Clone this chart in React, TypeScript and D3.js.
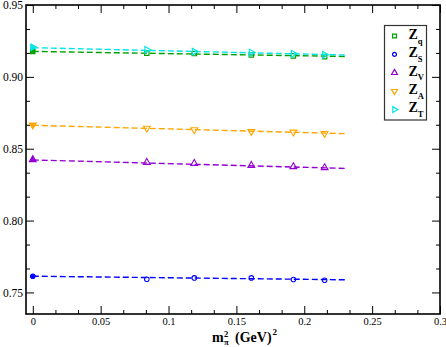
import { useEffect, useRef } from "react";
import * as d3 from "d3";

// pion mass squared (GeV^2)
const mpi2 = [0, 0.084, 0.119, 0.161, 0.192, 0.215];

// renormalization constants
const zq = [0.9176, 0.9165, 0.9162, 0.9153, 0.9146, 0.9141];
const zs = [0.7613, 0.7592, 0.7601, 0.7601, 0.759, 0.7585];
const zv = [0.8424, 0.8405, 0.8398, 0.8384, 0.8375, 0.8368];
const za = [0.8665, 0.8643, 0.8632, 0.862, 0.8616, 0.8606];
const zt = [0.9206, 0.9188, 0.9176, 0.9169, 0.916, 0.9153];

// linear fits: value at start and end of fit range
const fitRange = [0, 0.23];
const fitZq = [0.9177, 0.9142];
const fitZs = [0.7613, 0.7588];
const fitZv = [0.8422, 0.8363];
const fitZa = [0.8663, 0.8605];
const fitZt = [0.9203, 0.9152];

const xTicks = [0, 0.05, 0.1, 0.15, 0.2, 0.25, 0.3];
const yTicks = [0.75, 0.8, 0.85, 0.9, 0.95];

const series = [
  { sub: "q", values: zq, fit: fitZq, color: "#00a000", shape: "square" },
  { sub: "S", values: zs, fit: fitZs, color: "#0000ff", shape: "circle" },
  { sub: "V", values: zv, fit: fitZv, color: "#9400d3", shape: "up" },
  { sub: "A", values: za, fit: fitZa, color: "#ffa500", shape: "down" },
  { sub: "T", values: zt, fit: fitZt, color: "#00e5e5", shape: "right" },
];

function symbolPath(shape: string, size: number) {
  if (shape === "square") return d3.symbol(d3.symbolSquare, size)();
  if (shape === "circle") return d3.symbol(d3.symbolCircle, size * 0.8)();
  return d3.symbol(d3.symbolTriangle, size)();
}
function symbolRotate(shape: string) {
  if (shape === "down") return 180;
  if (shape === "right") return 90;
  return 0;
}

export default function App() {
  const ref = useRef<SVGSVGElement>(null);

  useEffect(() => {
    document.body.style.margin = "0";
    const width = 446;
    const height = 347;
    const margin = { top: 5, right: 6, bottom: 33, left: 26 };
    const svg = d3.select(ref.current);
    svg.selectAll("*").remove();

    const x = d3
      .scaleLinear()
      .domain([-0.005, 0.3])
      .range([margin.left, width - margin.right]);
    const y = d3
      .scaleLinear()
      .domain([0.735, 0.95])
      .range([height - margin.bottom, margin.top]);

    const font = "'Liberation Serif', 'DejaVu Serif', serif";
    const xMinor = d3.range(0, 0.3001, 0.05 / 3).filter((v) => Math.abs((v / 0.05) - Math.round(v / 0.05)) > 0.01);
    const yMinor = d3.range(0.75, 0.95, 0.05 / 3).filter((v) => Math.abs(((v - 0.75) / 0.05) - Math.round((v - 0.75) / 0.05)) > 0.01);

    const x0 = margin.left;
    const x1 = width - margin.right;
    const y0 = height - margin.bottom;
    const y1 = margin.top;

    const styleAxis = (g: any) => {
      g.select(".domain").remove();
      g.selectAll("line").attr("stroke", "#000").attr("stroke-width", 1);
      g.selectAll("text").attr("font-family", font).attr("fill", "#000");
    };

    // bottom axis
    svg.append("g").attr("transform", `translate(0,${y0})`)
      .call(d3.axisBottom(x).tickValues(xTicks).tickSize(-8).tickSizeOuter(0).tickPadding(4)
        .tickFormat((d: any) => (d === 0 ? "0" : d3.format("")(+d.toFixed(2)))))
      .call(styleAxis)
      .call((g) => g.selectAll("text").attr("font-size", 10.5));
    svg.append("g").attr("transform", `translate(0,${y0})`)
      .call(d3.axisBottom(x).tickValues(xMinor).tickSize(-4).tickSizeOuter(0).tickFormat(() => ""))
      .call(styleAxis);
    // top axis
    svg.append("g").attr("transform", `translate(0,${y1})`)
      .call(d3.axisTop(x).tickValues(xTicks).tickSize(-8).tickSizeOuter(0).tickFormat(() => ""))
      .call(styleAxis);
    svg.append("g").attr("transform", `translate(0,${y1})`)
      .call(d3.axisTop(x).tickValues(xMinor).tickSize(-4).tickSizeOuter(0).tickFormat(() => ""))
      .call(styleAxis);
    // left axis
    svg.append("g").attr("transform", `translate(${x0},0)`)
      .call(d3.axisLeft(y).tickValues(yTicks).tickSize(-8).tickSizeOuter(0).tickPadding(3).tickFormat(d3.format(".2f")))
      .call(styleAxis)
      .call((g) => g.selectAll("text").attr("font-size", 11.5));
    svg.append("g").attr("transform", `translate(${x0},0)`)
      .call(d3.axisLeft(y).tickValues(yMinor).tickSize(-4).tickSizeOuter(0).tickFormat(() => ""))
      .call(styleAxis);
    // right axis
    svg.append("g").attr("transform", `translate(${x1},0)`)
      .call(d3.axisRight(y).tickValues(yTicks).tickSize(-8).tickSizeOuter(0).tickFormat(() => ""))
      .call(styleAxis);
    svg.append("g").attr("transform", `translate(${x1},0)`)
      .call(d3.axisRight(y).tickValues(yMinor).tickSize(-4).tickSizeOuter(0).tickFormat(() => ""))
      .call(styleAxis);

    // frame
    svg.append("rect")
      .attr("x", x0).attr("y", y1)
      .attr("width", x1 - x0).attr("height", y0 - y1)
      .attr("fill", "none").attr("stroke", "#000").attr("stroke-width", 1.6);

    // fit lines and points
    const line = d3.line<[number, number]>().x((d) => x(d[0])).y((d) => y(d[1]));
    series.forEach((s) => {
      svg.append("path")
        .attr("d", line([[fitRange[0], s.fit[0]], [fitRange[1], s.fit[1]]]))
        .attr("fill", "none").attr("stroke", s.color)
        .attr("stroke-width", 1.4).attr("stroke-dasharray", "6,3");
      svg.append("g").selectAll("path")
        .data(s.values)
        .join("path")
        .attr("d", symbolPath(s.shape, 20))
        .attr("transform", (v, i) => `translate(${x(mpi2[i])},${y(v)}) rotate(${symbolRotate(s.shape)})`)
        .attr("fill", (v, i) => (i === 0 ? s.color : "none"))
        .attr("stroke", s.color)
        .attr("stroke-width", 1.1);
    });

    // legend
    const lg = svg.append("g");
    lg.append("rect")
      .attr("x", 384.5).attr("y", 25.5).attr("width", 42).attr("height", 94.5)
      .attr("fill", "#fff").attr("stroke", "#333").attr("stroke-width", 1.2);
    series.forEach((s, i) => {
      const ry = 36 + i * 18.4;
      lg.append("path")
        .attr("d", symbolPath(s.shape, 15))
        .attr("transform", `translate(394.5,${ry}) rotate(${symbolRotate(s.shape)})`)
        .attr("fill", "none").attr("stroke", s.color).attr("stroke-width", 1.2);
      const t = lg.append("text")
        .attr("x", 408.5).attr("y", ry + 2.8)
        .attr("font-family", font).attr("font-weight", "bold").attr("font-size", 14);
      t.append("tspan").text("Z");
      t.append("tspan").attr("dy", 4.8).attr("font-size", 8.5).text(s.sub);
    });

    // x axis title
    const xt = svg.append("g").attr("font-family", font).attr("font-weight", "bold");
    xt.append("text").attr("x", 212).attr("y", 341.5).attr("font-size", 14).text("m");
    xt.append("text").attr("x", 224).attr("y", 336.5).attr("font-size", 8.5).text("2");
    xt.append("text").attr("x", 224).attr("y", 345).attr("font-size", 8.5).text("π");
    xt.append("text").attr("x", 235).attr("y", 341.5).attr("font-size", 14).text("(GeV)");
    xt.append("text").attr("x", 272.5).attr("y", 335).attr("font-size", 9).text("2");
  }, []);

  return <svg ref={ref} width={446} height={347} style={{ display: "block", background: "#fff" }} />;
}
